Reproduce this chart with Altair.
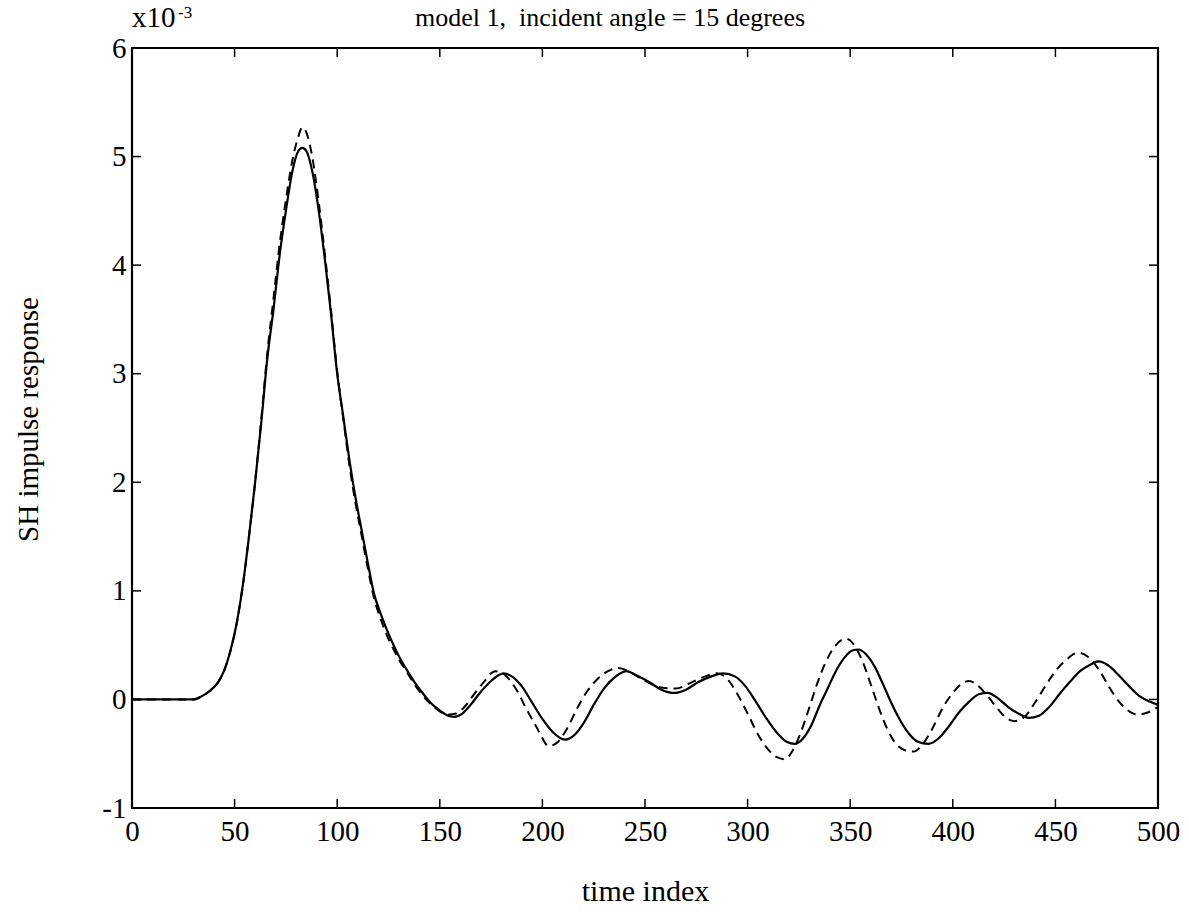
import altair as alt
import pandas as pd

# ---- data (values in units of 1e-3) ----
x_solid = [0, 10, 20, 30, 34, 38, 42, 45, 48, 51, 54, 57, 60, 63, 66, 69, 72, 75, 78, 81, 83, 85, 88, 91, 94, 97,
           100, 103, 106, 109, 112, 115, 118, 121, 124, 127, 130, 134, 138, 142, 146, 150, 154, 157, 161, 165,
           170, 175, 181, 186, 190, 195, 200, 205, 211, 216, 220, 225, 230, 235, 241, 246, 252, 258, 264, 270,
           276, 282, 288, 294, 299, 304, 309, 314, 319, 323, 327, 331, 335, 339, 343, 347, 351, 354, 358, 362,
           366, 370, 374, 378, 383, 388, 393, 398, 403, 408, 413, 417, 422, 427, 432, 437, 442, 447, 452, 457,
           462, 467, 471, 476, 481, 486, 491, 496, 500]
y_solid = [0, 0, 0, 0.0, 0.03, 0.08, 0.16, 0.27, 0.45, 0.7, 1.05, 1.5, 2.0, 2.55, 3.15, 3.6, 4.1, 4.5, 4.85, 5.05,
           5.08, 5.05, 4.85, 4.5, 4.05, 3.55, 3.0, 2.6, 2.2, 1.85, 1.55, 1.25, 0.97, 0.8, 0.65, 0.52, 0.4, 0.27,
           0.15, 0.05, -0.04, -0.1, -0.15, -0.16, -0.13, -0.05, 0.07, 0.17, 0.24, 0.2, 0.12, -0.03, -0.18, -0.3,
           -0.37, -0.32, -0.22, -0.05, 0.1, 0.2, 0.26, 0.22, 0.16, 0.09, 0.06, 0.09, 0.16, 0.21, 0.24, 0.21, 0.12,
           -0.02, -0.17, -0.3, -0.39, -0.41, -0.36, -0.24, -0.06, 0.1, 0.26, 0.38, 0.45, 0.46, 0.41, 0.3, 0.14,
           -0.03, -0.18, -0.3, -0.39, -0.41, -0.36, -0.25, -0.12, -0.02, 0.05, 0.06, 0.01, -0.07, -0.13, -0.17,
           -0.15, -0.07, 0.05, 0.16, 0.26, 0.32, 0.35, 0.31, 0.22, 0.12, 0.03, -0.02, -0.05]

x_dashed = [0, 10, 20, 30, 34, 38, 42, 45, 48, 51, 54, 57, 60, 63, 66, 69, 72, 75, 78, 81, 83, 85, 88, 91, 94, 97,
            100, 103, 106, 109, 112, 115, 118, 121, 124, 127, 130, 134, 138, 142, 146, 150, 154, 158, 162, 166,
            171, 177, 182, 187, 192, 197, 199, 203, 207, 212, 217, 222, 227, 232, 237, 243, 250, 258, 265, 272,
            279, 285, 290, 295, 300, 305, 310, 314, 318, 322, 326, 330, 334, 338, 343, 348, 352, 356, 360, 364,
            368, 372, 377, 381, 385, 390, 395, 400, 404, 408, 412, 417, 422, 426, 430, 435, 440, 445, 450, 455,
            461, 466, 471, 476, 481, 486, 490, 495, 500]
y_dashed = [0, 0, 0, 0.0, 0.03, 0.08, 0.16, 0.27, 0.45, 0.7, 1.05, 1.5, 2.0, 2.58, 3.2, 3.7, 4.2, 4.6, 4.95, 5.18,
            5.27, 5.22, 4.98, 4.58, 4.1, 3.58, 3.02, 2.58, 2.15, 1.8, 1.5, 1.2, 0.93, 0.75, 0.6, 0.48, 0.37, 0.25,
            0.13, 0.03, -0.05, -0.11, -0.14, -0.13, -0.07, 0.03, 0.15, 0.26, 0.22, 0.1, -0.08, -0.25, -0.32, -0.43,
            -0.4, -0.27, -0.08, 0.08, 0.19, 0.26, 0.29, 0.25, 0.17, 0.11, 0.1, 0.15, 0.21, 0.24, 0.19, 0.05, -0.13,
            -0.32, -0.46, -0.53, -0.55, -0.47, -0.3, -0.08, 0.15, 0.34, 0.5, 0.56, 0.5, 0.35, 0.14, -0.08, -0.27,
            -0.4, -0.47, -0.48, -0.42, -0.27, -0.08, 0.06, 0.14, 0.17, 0.13, 0.03, -0.09, -0.17, -0.2, -0.16, -0.03,
            0.12, 0.26, 0.36, 0.43, 0.39, 0.28, 0.12, -0.02, -0.11, -0.14, -0.12, -0.07]

x_ticks = [0, 50, 100, 150, 200, 250, 300, 350, 400, 450, 500]
y_ticks = [-1, 0, 1, 2, 3, 4, 5, 6]

title_text = "model 1,\u00a0 incident angle = 15 degrees"
x_title = "time index"
y_title = "SH impulse response"
exp_base = "x10"
exp_power = "-3"

# ---- layout ----
W, H = 1026, 760
FONT = "Liberation Serif"
TK = 9

solid_df = pd.DataFrame({"t": x_solid, "v": y_solid})
dashed_df = pd.DataFrame({"t": x_dashed, "v": y_dashed})
xt_df = pd.DataFrame({"t": x_ticks})
yt_df = pd.DataFrame({"v": y_ticks})

xs = alt.Scale(domain=[0, 500], nice=False, zero=False)
ys = alt.Scale(domain=[-1, 6], nice=False, zero=False)

x_axis = alt.Axis(values=x_ticks, title=x_title, labelExpr="'' + datum.value", labelFont=FONT,
                  labelFontSize=29, titleFont=FONT, titleFontSize=30, titleFontWeight="normal", tickSize=0,
                  domain=False, grid=False, labelPadding=9, titlePadding=30, labelFlush=False,
                  labelOverlap=False, labelColor="black", titleColor="black")
y_axis = alt.Axis(values=y_ticks, title=y_title, labelExpr="'' + datum.value", labelFont=FONT,
                  labelFontSize=29, titleFont=FONT, titleFontSize=29, titleFontWeight="normal", tickSize=0,
                  domain=False, grid=False, labelPadding=6, labelFlush=False, labelOverlap=False,
                  labelColor="black", titleColor="black", titleX=-104, titleY=371,
                  titleAngle=270, titleAlign="center", titleBaseline="middle")

X = alt.X("t:Q", scale=xs, axis=x_axis)
Y = alt.Y("v:Q", scale=ys, axis=y_axis)

solid = alt.Chart(solid_df).mark_line(color="black", strokeWidth=2.2, interpolate="monotone").encode(x=X, y=Y)
dashed = alt.Chart(dashed_df).mark_line(color="black", strokeWidth=2, strokeDash=[9, 6],
                                        interpolate="monotone").encode(x=X, y=Y)

left_ticks = alt.Chart(yt_df).mark_rule(color="black", strokeWidth=1.5).encode(
    y=Y, x=alt.value(0), x2=alt.value(TK))
right_ticks = alt.Chart(yt_df).mark_rule(color="black", strokeWidth=1.5).encode(
    y=Y, x=alt.value(W - TK), x2=alt.value(W))
bottom_ticks = alt.Chart(xt_df).mark_rule(color="black", strokeWidth=1.5).encode(
    x=X, y=alt.value(H - TK), y2=alt.value(H))
top_ticks = alt.Chart(xt_df).mark_rule(color="black", strokeWidth=1.5).encode(
    x=X, y=alt.value(0), y2=alt.value(TK))

base_txt = alt.Chart(pd.DataFrame({"s": [exp_base]})).mark_text(
    font=FONT, fontSize=29, align="left", baseline="alphabetic", color="black").encode(
    text="s:N", x=alt.value(0), y=alt.value(-21))
pow_txt = alt.Chart(pd.DataFrame({"s": [exp_power]})).mark_text(
    font=FONT, fontSize=17, align="left", baseline="alphabetic", color="black").encode(
    text="s:N", x=alt.value(46), y=alt.value(-30))
title_txt = alt.Chart(pd.DataFrame({"s": [title_text]})).mark_text(
    font=FONT, fontSize=26, align="center", baseline="alphabetic", color="black").encode(
    text="s:N", x=alt.value(478), y=alt.value(-22))

chart = alt.layer(solid, dashed, left_ticks, right_ticks, bottom_ticks, top_ticks,
                  base_txt, pow_txt, title_txt).properties(
    width=W, height=H,
    padding={"left": 132, "top": 48, "right": 31, "bottom": 104},
    autosize="none",
    background="white",
).configure_view(stroke="black", strokeWidth=2.2)

chart.save("out.html", embed_options={"renderer": "svg", "actions": False})
